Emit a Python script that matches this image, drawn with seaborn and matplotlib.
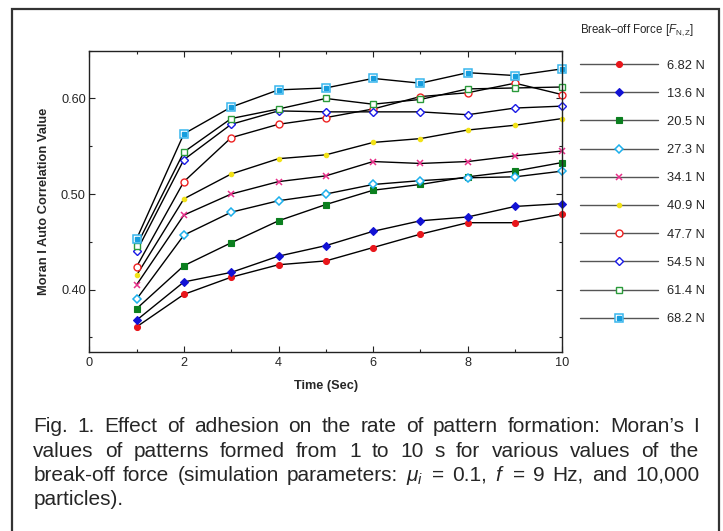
import numpy as np
import pandas as pd
import matplotlib as mpl
mpl.use('Agg')
import matplotlib.pyplot as plt
from matplotlib.lines import Line2D
from matplotlib.patches import Rectangle
from matplotlib.ticker import MultipleLocator, FormatStrFormatter
import seaborn as sns

# ============================================ #
# data
# ============================================ #

time_s = [1, 2, 3, 4, 5, 6, 7, 8, 9, 10]
force_labels = ['6.82 N', '13.6 N', '20.5 N', '27.3 N', '34.1 N',
                '40.9 N', '47.7 N', '54.5 N', '61.4 N', '68.2 N']

moran_682 = [0.361, 0.395, 0.413, 0.426, 0.430, 0.444, 0.458, 0.470, 0.470, 0.479]
moran_136 = [0.368, 0.408, 0.418, 0.435, 0.446, 0.461, 0.472, 0.476, 0.487, 0.490]
moran_205 = [0.380, 0.425, 0.449, 0.472, 0.489, 0.504, 0.510, 0.518, 0.524, 0.533]
moran_273 = [0.390, 0.457, 0.481, 0.493, 0.500, 0.510, 0.514, 0.517, 0.518, 0.524]
moran_341 = [0.405, 0.478, 0.500, 0.513, 0.519, 0.534, 0.532, 0.534, 0.540, 0.545]
moran_409 = [0.415, 0.495, 0.521, 0.537, 0.541, 0.554, 0.558, 0.567, 0.572, 0.579]
moran_477 = [0.424, 0.513, 0.559, 0.573, 0.580, 0.589, 0.602, 0.606, 0.616, 0.604]
moran_545 = [0.440, 0.536, 0.573, 0.587, 0.586, 0.586, 0.586, 0.583, 0.590, 0.592]
moran_614 = [0.446, 0.544, 0.579, 0.589, 0.600, 0.594, 0.599, 0.610, 0.611, 0.612]
moran_682b = [0.453, 0.563, 0.591, 0.609, 0.611, 0.621, 0.616, 0.627, 0.624, 0.631]

series = [moran_682, moran_136, moran_205, moran_273, moran_341,
          moran_409, moran_477, moran_545, moran_614, moran_682b]

caption_lines = [
    "Fig. 1. Effect of adhesion on the rate of pattern formation: Moran\u2019s I",
    "values of patterns formed from 1 to 10 s for various values of the",
    r"break-off force (simulation parameters: $\mu_i$ = 0.1, $f$ = 9 Hz, and 10,000",
    "particles).",
]

# marker look for each series (line itself is always black)
styles = [
    dict(marker='o', markerfacecolor='#e8161b', markeredgecolor='#e8161b', markersize=4.3, markeredgewidth=0.8),
    dict(marker='D', markerfacecolor='#1212d4', markeredgecolor='#1212d4', markersize=4.0, markeredgewidth=0.8),
    dict(marker='s', markerfacecolor='#0b7f1f', markeredgecolor='#0b7f1f', markersize=4.3, markeredgewidth=0.8),
    dict(marker='D', markerfacecolor='white', markeredgecolor='#1cb0ec', markersize=4.3, markeredgewidth=1.1),
    dict(marker='x', markerfacecolor='#e8308a', markeredgecolor='#e8308a', markersize=4.3, markeredgewidth=1.1),
    dict(marker='o', markerfacecolor='#f2e216', markeredgecolor='#f2e216', markersize=3.2, markeredgewidth=0.8),
    dict(marker='o', markerfacecolor='white', markeredgecolor='#ee2222', markersize=5.0, markeredgewidth=1.0),
    dict(marker='D', markerfacecolor='white', markeredgecolor='#1a1ae6', markersize=4.3, markeredgewidth=1.0),
    dict(marker='s', markerfacecolor='white', markeredgecolor='#2a9a3a', markersize=4.6, markeredgewidth=1.0),
    dict(marker='s', markerfacecolor='white', markeredgecolor='#38b6ee', markersize=6.0, markeredgewidth=1.1),
]
inner_682 = dict(marker='s', markerfacecolor='#169ede', markeredgecolor='#169ede', markersize=3.0)

# ============================================ #
# style
# ============================================ #

sns.set_style('ticks')
plt.rcParams['font.family'] = ['Liberation Sans', 'DejaVu Sans']
plt.rcParams['mathtext.fontset'] = 'custom'
plt.rcParams['mathtext.rm'] = 'Liberation Sans'
plt.rcParams['mathtext.it'] = 'Liberation Sans:italic'
plt.rcParams['mathtext.bf'] = 'Liberation Sans:bold'

W, H = 723, 531
fig = plt.figure(figsize=(W / 100, H / 100), dpi=100)
fig.patch.set_facecolor('white')
ax = fig.add_axes([89.3 / W, 1 - 351.7 / H, (562.3 - 89.3) / W, (351.7 - 50.7) / H])

df = pd.DataFrame({'time': np.tile(time_s, len(series)),
                   'value': np.concatenate(series),
                   'force': np.repeat(force_labels, len(time_s))})

for lab, st in zip(force_labels, styles):
    sub = df[df['force'] == lab]
    sns.lineplot(data=sub, x='time', y='value', color='black', lw=1.0,
                 legend=False, ax=ax, clip_on=False, **st)
sub = df[df['force'] == '68.2 N']
ax.plot(sub['time'], sub['value'], ls='none', clip_on=False, **inner_682)

ax.set_xlim(0, 10)
ax.set_ylim(0.335, 0.65)
ax.xaxis.set_major_locator(MultipleLocator(2))
ax.xaxis.set_minor_locator(MultipleLocator(1))
ax.yaxis.set_major_locator(MultipleLocator(0.1))
ax.yaxis.set_minor_locator(MultipleLocator(0.05))
ax.yaxis.set_major_formatter(FormatStrFormatter('%.2f'))
ax.tick_params(which='both', direction='in', top=True, right=True, width=0.8, color='#222222')
ax.tick_params(which='major', length=4.5, labelsize=9.2)
ax.tick_params(which='minor', length=2.5)
ax.tick_params(axis='y', pad=2.5)
ax.tick_params(axis='x', pad=3.5)
for sp in ax.spines.values():
    sp.set_linewidth(1.0)
    sp.set_color('#222222')

ax.set_xlabel('Time (Sec)', fontsize=9.2, fontweight='bold', labelpad=8.5)
ax.set_ylabel('Moran I Auto Correlation Value', fontsize=9.3, fontweight='bold', labelpad=8)

# legend
handles = []
for st in styles:
    handles.append(Line2D([], [], color='#555555', lw=1.0, **st))
handles[-1] = (handles[-1], Line2D([], [], ls='none', **inner_682))
fig.legend(handles, force_labels, loc='upper left',
           bbox_to_anchor=(580 / W, 1 - 59.5 / H), frameon=False,
           borderpad=0, borderaxespad=0, handlelength=6.05, handletextpad=0.7,
           labelspacing=1.25, fontsize=9.3)
fig.text(580 / W, 1 - 30 / H, 'Break\u2013off Force [$F_{\\rm N,Z}$]',
         fontsize=8.3, va='center', ha='left')

# outer frame around figure + caption
fig.add_artist(Rectangle((12 / W, -0.05), (719 - 12) / W, 1.05 - 9 / H,
                         transform=fig.transFigure, fill=False, lw=1.6,
                         ec='#333333', clip_on=False))

# caption, justified word by word
renderer = fig.canvas.get_renderer()
x_left, x_right = 33.3, 699.3
cap_fs = 15
baselines = [432.3, 456.6, 480.9, 505.2]
for i, (line, base) in enumerate(zip(caption_lines, baselines)):
    words = line.split(' ')
    arts = [fig.text(0, 1 - base / H, w, fontsize=cap_fs, va='baseline', ha='left')
            for w in words]
    widths = [a.get_window_extent(renderer).width for a in arts]
    if i < len(caption_lines) - 1:
        gap = (x_right - x_left - sum(widths)) / (len(words) - 1)
    else:
        gap = cap_fs * 0.278 * 100 / 72
    x = x_left
    for a, wd in zip(arts, widths):
        a.set_x(x / W)
        x += wd + gap

fig.savefig('out.png', dpi=100)
